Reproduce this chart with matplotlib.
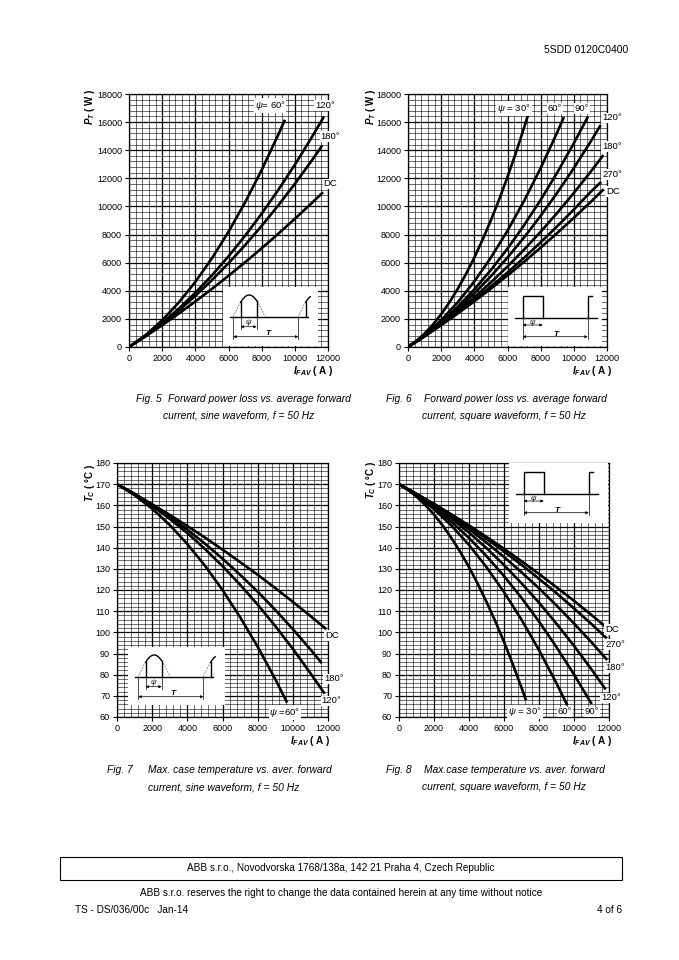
import matplotlib
matplotlib.use('Agg')
import matplotlib.pyplot as plt
import numpy as np
from matplotlib.ticker import MultipleLocator
from matplotlib.patches import Rectangle

plt.rcParams['font.family'] = ['Liberation Sans', 'DejaVu Sans']
plt.rcParams['mathtext.fontset'] = 'custom'
plt.rcParams['mathtext.it'] = 'Liberation Sans:bold:italic'
plt.rcParams['mathtext.rm'] = 'Liberation Sans:bold'
plt.rcParams['mathtext.bf'] = 'Liberation Sans:bold'
plt.rcParams['mathtext.sf'] = 'Liberation Sans:italic'

W, H = 679, 960

# ---- Fig. 5: P_T vs I_FAV, sine waveform ----
f5_60_i = [0, 1000, 2000, 3000, 4000, 5000, 6000, 7000, 8000, 9000, 9400]
f5_60_p = [0, 846, 1900, 3162, 4632, 6310, 8196, 10290, 12592, 15102, 16164]
f5_120_i = [0, 1000, 2000, 3000, 4000, 5000, 6000, 7000, 8000, 9000, 10000, 11000, 11750]
f5_120_p = [0, 798, 1706, 2726, 3856, 5098, 6450, 7914, 9488, 11174, 12970, 14878, 16381]
f5_180_i = [0, 1000, 2000, 3000, 4000, 5000, 6000, 7000, 8000, 9000, 10000, 11000, 11650]
f5_180_p = [0, 784, 1652, 2603, 3638, 4758, 5960, 7247, 8618, 10072, 11610, 13232, 14331]
f5_dc_i = [0, 1000, 2000, 3000, 4000, 5000, 6000, 7000, 8000, 9000, 10000, 11000, 11700]
f5_dc_p = [0, 759, 1552, 2379, 3240, 4135, 5064, 6027, 7024, 8055, 9120, 10219, 11008]

# ---- Fig. 6: P_T vs I_FAV, square waveform ----
f6_30_i = [0, 500, 1000, 1500, 2000, 2500, 3000, 3500, 4000, 4500, 5000, 5500, 6000, 6500, 7000, 7230]
f6_30_p = [0, 424, 954, 1591, 2334, 3183, 4138, 5199, 6366, 7640, 9020, 10506, 12098, 13797, 15602, 16468]
f6_60_i = [0, 1000, 2000, 3000, 4000, 5000, 6000, 7000, 8000, 9000, 9400]
f6_60_p = [0, 848, 1909, 3182, 4667, 6365, 8275, 10398, 12733, 15280, 16359]
f6_90_i = [0, 1000, 2000, 3000, 4000, 5000, 6000, 7000, 8000, 9000, 10000, 10850]
f6_90_p = [0, 813, 1767, 2863, 4101, 5480, 7001, 8663, 10467, 12413, 14500, 16385]
f6_120_i = [0, 1000, 2000, 3000, 4000, 5000, 6000, 7000, 8000, 9000, 10000, 11000, 11620]
f6_120_p = [0, 795, 1696, 2704, 3818, 5038, 6364, 7796, 9334, 10979, 12730, 14587, 15792]
f6_180_i = [0, 1000, 2000, 3000, 4000, 5000, 6000, 7000, 8000, 9000, 10000, 11000, 11780]
f6_180_p = [0, 777, 1626, 2545, 3534, 4595, 5726, 6929, 8202, 9545, 10960, 12445, 13653]
f6_270_i = [0, 1000, 2000, 3000, 4000, 5000, 6000, 7000, 8000, 9000, 10000, 11000, 11650]
f6_270_p = [0, 766, 1578, 2438, 3346, 4300, 5302, 6350, 7446, 8590, 9780, 11018, 11750]
f6_dc_i = [0, 1000, 2000, 3000, 4000, 5000, 6000, 7000, 8000, 9000, 10000, 11000, 11800]
f6_dc_p = [0, 760, 1555, 2385, 3251, 4153, 5089, 6061, 7069, 8112, 9190, 10304, 11221]

# ---- Fig. 7: T_C vs I_FAV, sine waveform ----
f7_60_i = [0, 1000, 2000, 3000, 4000, 5000, 6000, 7000, 8000, 9000, 9675]
f7_60_t = [170, 164.8, 158.4, 150.7, 141.7, 131.5, 120.0, 107.2, 93.2, 77.9, 66.8]
f7_120_i = [0, 1000, 2000, 3000, 4000, 5000, 6000, 7000, 8000, 9000, 10000, 11000, 11810]
f7_120_t = [170, 165.2, 159.8, 153.6, 146.9, 139.4, 131.3, 122.5, 113.1, 103.0, 92.2, 80.7, 71.0]
f7_180_i = [0, 1000, 2000, 3000, 4000, 5000, 6000, 7000, 8000, 9000, 10000, 11000, 11650]
f7_180_t = [170, 165.4, 160.3, 154.6, 148.5, 141.9, 134.8, 127.2, 119.2, 110.6, 101.5, 91.9, 85.4]
f7_dc_i = [0, 1000, 2000, 3000, 4000, 5000, 6000, 7000, 8000, 9000, 10000, 11000, 11900]
f7_dc_t = [170, 165.4, 160.5, 155.5, 150.2, 144.8, 139.1, 133.2, 127.2, 120.9, 114.4, 107.7, 101.5]

# ---- Fig. 8: T_C vs I_FAV, square waveform ----
f8_30_i = [0, 500, 1000, 1500, 2000, 2500, 3000, 3500, 4000, 4500, 5000, 5500, 6000, 6500, 7000, 7260]
f8_30_t = [170, 167.4, 164.1, 160.2, 155.6, 150.4, 144.5, 138.0, 130.8, 122.9, 114.4, 105.3, 95.5, 85.0, 73.9, 67.9]
f8_60_i = [0, 1000, 2000, 3000, 4000, 5000, 6000, 7000, 8000, 9000, 9620]
f8_60_t = [170, 164.8, 158.2, 150.4, 141.3, 130.8, 119.0, 106.0, 91.6, 75.9, 65.5]
f8_90_i = [0, 1000, 2000, 3000, 4000, 5000, 6000, 7000, 8000, 9000, 10000, 11010]
f8_90_t = [170, 165.0, 159.0, 152.2, 144.6, 136.0, 126.6, 116.3, 105.1, 93.0, 80.1, 66.1]
f8_120_i = [0, 1000, 2000, 3000, 4000, 5000, 6000, 7000, 8000, 9000, 10000, 11000, 11810]
f8_120_t = [170, 165.2, 159.8, 153.8, 147.1, 139.8, 131.8, 123.2, 114.0, 104.1, 93.6, 82.5, 73.0]
f8_180_i = [0, 1000, 2000, 3000, 4000, 5000, 6000, 7000, 8000, 9000, 10000, 11000, 11900]
f8_180_t = [170, 165.3, 160.2, 154.7, 148.8, 142.4, 135.6, 128.4, 120.8, 112.7, 104.2, 95.3, 86.9]
f8_270_i = [0, 1000, 2000, 3000, 4000, 5000, 6000, 7000, 8000, 9000, 10000, 11000, 11870]
f8_270_t = [170, 165.4, 160.5, 155.4, 149.9, 144.2, 138.2, 131.9, 125.3, 118.5, 111.3, 103.9, 97.2]
f8_dc_i = [0, 1000, 2000, 3000, 4000, 5000, 6000, 7000, 8000, 9000, 10000, 11000, 11870]
f8_dc_t = [170, 165.4, 160.7, 155.7, 150.5, 145.1, 139.5, 133.6, 127.6, 121.3, 114.9, 108.2, 102.2]

fig = plt.figure(figsize=(W / 100, H / 100), dpi=100)


def px_rect(x0, y0, x1, y1):
    return [x0 / W, 1 - y1 / H, (x1 - x0) / W, (y1 - y0) / H]


def chart(rect, ymax, ymin, ymaj, ymnr):
    ax = fig.add_axes(px_rect(*rect))
    ax.set_xlim(0, 12000)
    ax.set_ylim(ymin, ymax)
    ax.xaxis.set_major_locator(MultipleLocator(2000))
    ax.xaxis.set_minor_locator(MultipleLocator(400))
    ax.yaxis.set_major_locator(MultipleLocator(ymaj))
    ax.yaxis.set_minor_locator(MultipleLocator(ymnr))
    ax.grid(which='major', color='black', lw=0.9)
    ax.grid(which='minor', color='black', lw=0.4)
    ax.set_axisbelow(True)
    ax.tick_params(which='major', direction='out', length=3, width=0.8,
                   labelsize=6.5, pad=2)
    ax.tick_params(which='minor', length=0)
    for s in ax.spines.values():
        s.set_linewidth(0.9)
    return ax


def curve(ax, x, y):
    ax.plot(x, y, color='black', lw=1.9, zorder=3, solid_capstyle='butt')


def tag(ax, x, y, s):
    ax.text(x, y, s, fontsize=6.8, ha='center', va='center', zorder=6,
            clip_on=False,
            bbox=dict(facecolor='white', edgecolor='none', pad=0.6))


def inset(rect, kind):
    x0, y0, x1, y1 = rect
    a = fig.add_axes(px_rect(*rect), zorder=5)
    a.set_xlim(0, x1 - x0)
    a.set_ylim(y1 - y0, 0)
    a.set_facecolor('white')
    a.set_xticks([])
    a.set_yticks([])
    for s in a.spines.values():
        s.set_visible(False)
    k = dict(color='black', lw=1.0)
    thin = dict(color='black', lw=0.5)
    if kind == 'sine':
        base, z0, half, amp, per = 29.7, 10.3, 31.7, 21.7, 65.0
        c0, c1 = 17.7, 33.7
        a.plot([7, 85], [base, base], **k)

        def sy(xx, zz):
            return base - amp * np.sin(np.pi * (xx - zz) / half)
        for lo, hi in [(z0, c0), (c1, z0 + half)]:
            xx = np.linspace(lo, hi, 20)
            a.plot(xx, sy(xx, z0), color='0.45', lw=0.6, ls=(0, (2, 1.5)))
        xx = np.linspace(c0, c1, 40)
        a.plot(xx, sy(xx, z0), **k)
        a.plot([c0, c0], [base, sy(c0, z0)], **k)
        a.plot([c1, c1], [base, sy(c1, z0)], **k)
        z2 = z0 + per
        c2 = z2 + (c0 - z0)
        xx = np.linspace(z2, c2, 12)
        a.plot(xx, sy(xx, z2), color='0.45', lw=0.6, ls=(0, (2, 1.5)))
        xx = np.linspace(c2, c2 + 4.5, 10)
        a.plot(xx, sy(xx, z2), **k)
        a.plot([c2, c2], [base, sy(c2, z2)], **k)
        p0, p1, py = c0, c1, 39.7
        t0, t1, ty = z0, z2, 49.7
        a.plot([c0, c0], [base, 42], **thin)
        a.plot([c1, c1], [base, 42], **thin)
        psi_xy, t_xy = (25.5, 35.5), (46, 45.5)
    else:
        base, top = 30.7, 9.0
        c0, c1, c2 = 14.7, 34.7, 79.7
        a.plot([7, 89], [base, base], **k)
        a.plot([c0, c0, c1, c1], [base, top, top, base], **k)
        a.plot([c2, c2, 83.7], [base, top, top], **k)
        p0, p1, py = c0, c1, 38.0
        t0, t1, ty = c0, c2, 49.7
        psi_xy, t_xy = (25, 35.2), (49, 46)
    a.plot([t0, t0], [base, ty + 2.3], **thin)
    a.plot([t1, t1], [base, ty + 2.3], **thin)
    for (q0, q1, qy) in [(p0, p1, py), (t0, t1, ty)]:
        a.annotate('', xy=(q1, qy), xytext=(q0, qy),
                   arrowprops=dict(arrowstyle='<|-|>', lw=0.5, color='black',
                                   mutation_scale=4, shrinkA=0, shrinkB=0))
    a.text(*psi_xy, r'$\mathsf{\psi}$', fontsize=5.5, ha='center', va='center')
    a.text(*t_xy, r'$T$', fontsize=6, ha='center', va='center')


# Fig. 5
ax5 = chart((129, 94, 328, 347), 18000, 0, 2000, 400)
curve(ax5, f5_60_i, f5_60_p)
curve(ax5, f5_120_i, f5_120_p)
curve(ax5, f5_180_i, f5_180_p)
curve(ax5, f5_dc_i, f5_dc_p)
tag(ax5, 8500, 17200, r'$\mathsf{\psi}$= 60°')
tag(ax5, 11820, 17200, '120°')
tag(ax5, 12150, 15000, '180°')
tag(ax5, 12150, 11600, 'DC')
inset((223, 287, 318, 346), 'sine')

# Fig. 6
ax6 = chart((408, 94, 607, 347), 18000, 0, 2000, 400)
curve(ax6, f6_30_i, f6_30_p)
curve(ax6, f6_60_i, f6_60_p)
curve(ax6, f6_90_i, f6_90_p)
curve(ax6, f6_120_i, f6_120_p)
curve(ax6, f6_180_i, f6_180_p)
curve(ax6, f6_270_i, f6_270_p)
curve(ax6, f6_dc_i, f6_dc_p)
tag(ax6, 6390, 16950, r'$\mathsf{\psi}$ = 30°')
tag(ax6, 8860, 16950, '60°')
tag(ax6, 10490, 16950, '90°')
tag(ax6, 12300, 16300, '120°')
tag(ax6, 12300, 14240, '180°')
tag(ax6, 12300, 12250, '270°')
tag(ax6, 12360, 11050, 'DC')
inset((508, 287, 602, 346), 'square')

# Fig. 7
ax7 = chart((117, 463, 328, 717), 180, 60, 10, 2)
curve(ax7, f7_60_i, f7_60_t)
curve(ax7, f7_120_i, f7_120_t)
curve(ax7, f7_180_i, f7_180_t)
curve(ax7, f7_dc_i, f7_dc_t)
tag(ax7, 12230, 98.4, 'DC')
tag(ax7, 12330, 78.0, '180°')
tag(ax7, 12200, 67.6, '120°')
tag(ax7, 9550, 62.0, r'$\mathsf{\psi}$ =60°')
inset((128, 647, 225, 705), 'sine')

# Fig. 8
ax8 = chart((399, 463, 609, 717), 180, 60, 10, 2)
curve(ax8, f8_30_i, f8_30_t)
curve(ax8, f8_60_i, f8_60_t)
curve(ax8, f8_90_i, f8_90_t)
curve(ax8, f8_120_i, f8_120_t)
curve(ax8, f8_180_i, f8_180_t)
curve(ax8, f8_270_i, f8_270_t)
curve(ax8, f8_dc_i, f8_dc_t)
tag(ax8, 12170, 101.2, 'DC')
tag(ax8, 12340, 94.1, '270°')
tag(ax8, 12340, 83.2, '180°')
tag(ax8, 12110, 69.0, '120°')
tag(ax8, 7200, 62.4, r'$\mathsf{\psi}$ = 30°')
tag(ax8, 9490, 62.4, '60°')
tag(ax8, 11030, 62.4, '90°')
inset((509, 463, 608, 523), 'square')


def ftext(x, y, s, **kw):
    fig.text(x / W, 1 - y / H, s, **kw)


# axis titles
for (x, y) in [(90, 107), (371, 107)]:
    ftext(x, y, r'$P_T$ ( W )', rotation=90, fontsize=7, weight='bold',
          ha='center', va='center')
for (x, y) in [(90, 483), (371, 480)]:
    ftext(x, y, r'$T_C$ ( °C )', rotation=90, fontsize=7, weight='bold',
          ha='center', va='center')
for (x, y) in [(313, 371), (592, 371), (310, 741), (592, 741)]:
    ftext(x, y, r'$I_{FAV}$ ( A )', fontsize=7.2, weight='bold',
          ha='center', va='center')

# captions
cap = dict(fontsize=7.4, style='italic', va='center', ha='left')
ftext(136, 399, 'Fig. 5', **cap)
ftext(168, 399, 'Forward power loss vs. average forward', **cap)
ftext(163, 416, 'current, sine waveform, f = 50 Hz', **cap)
ftext(386, 399, 'Fig. 6', **cap)
ftext(424, 399, 'Forward power loss vs. average forward', **cap)
ftext(422, 416, 'current, square waveform, f = 50 Hz', **cap)
ftext(107, 770, 'Fig. 7', **cap)
ftext(148, 770, 'Max. case temperature vs. aver. forward', **cap)
ftext(148, 787, 'current, sine waveform, f = 50 Hz', **cap)
ftext(386, 770, 'Fig. 8', **cap)
ftext(424, 770, 'Max.case temperature vs. aver. forward', **cap)
ftext(422, 787, 'current, square waveform, f = 50 Hz', **cap)

# page header / footer
ftext(628, 50, '5SDD 0120C0400', fontsize=7.5, ha='right', va='center')
fig.add_artist(Rectangle((60 / W, 1 - 880 / H), 562 / W, 23 / H,
                         transform=fig.transFigure, fill=False,
                         edgecolor='black', lw=0.8))
ftext(341, 868, 'ABB s.r.o., Novodvorska 1768/138a, 142 21 Praha 4, Czech Republic',
      fontsize=7.2, ha='center', va='center')
ftext(341, 893, 'ABB s.r.o. reserves the right to change the data contained herein at any time without notice',
      fontsize=7.2, ha='center', va='center')
ftext(75, 910, 'TS - DS/036/00c   Jan-14', fontsize=7.2, ha='left', va='center')
ftext(622, 910, '4 of 6', fontsize=7.2, ha='right', va='center')

fig.savefig('out.png', dpi=100)
